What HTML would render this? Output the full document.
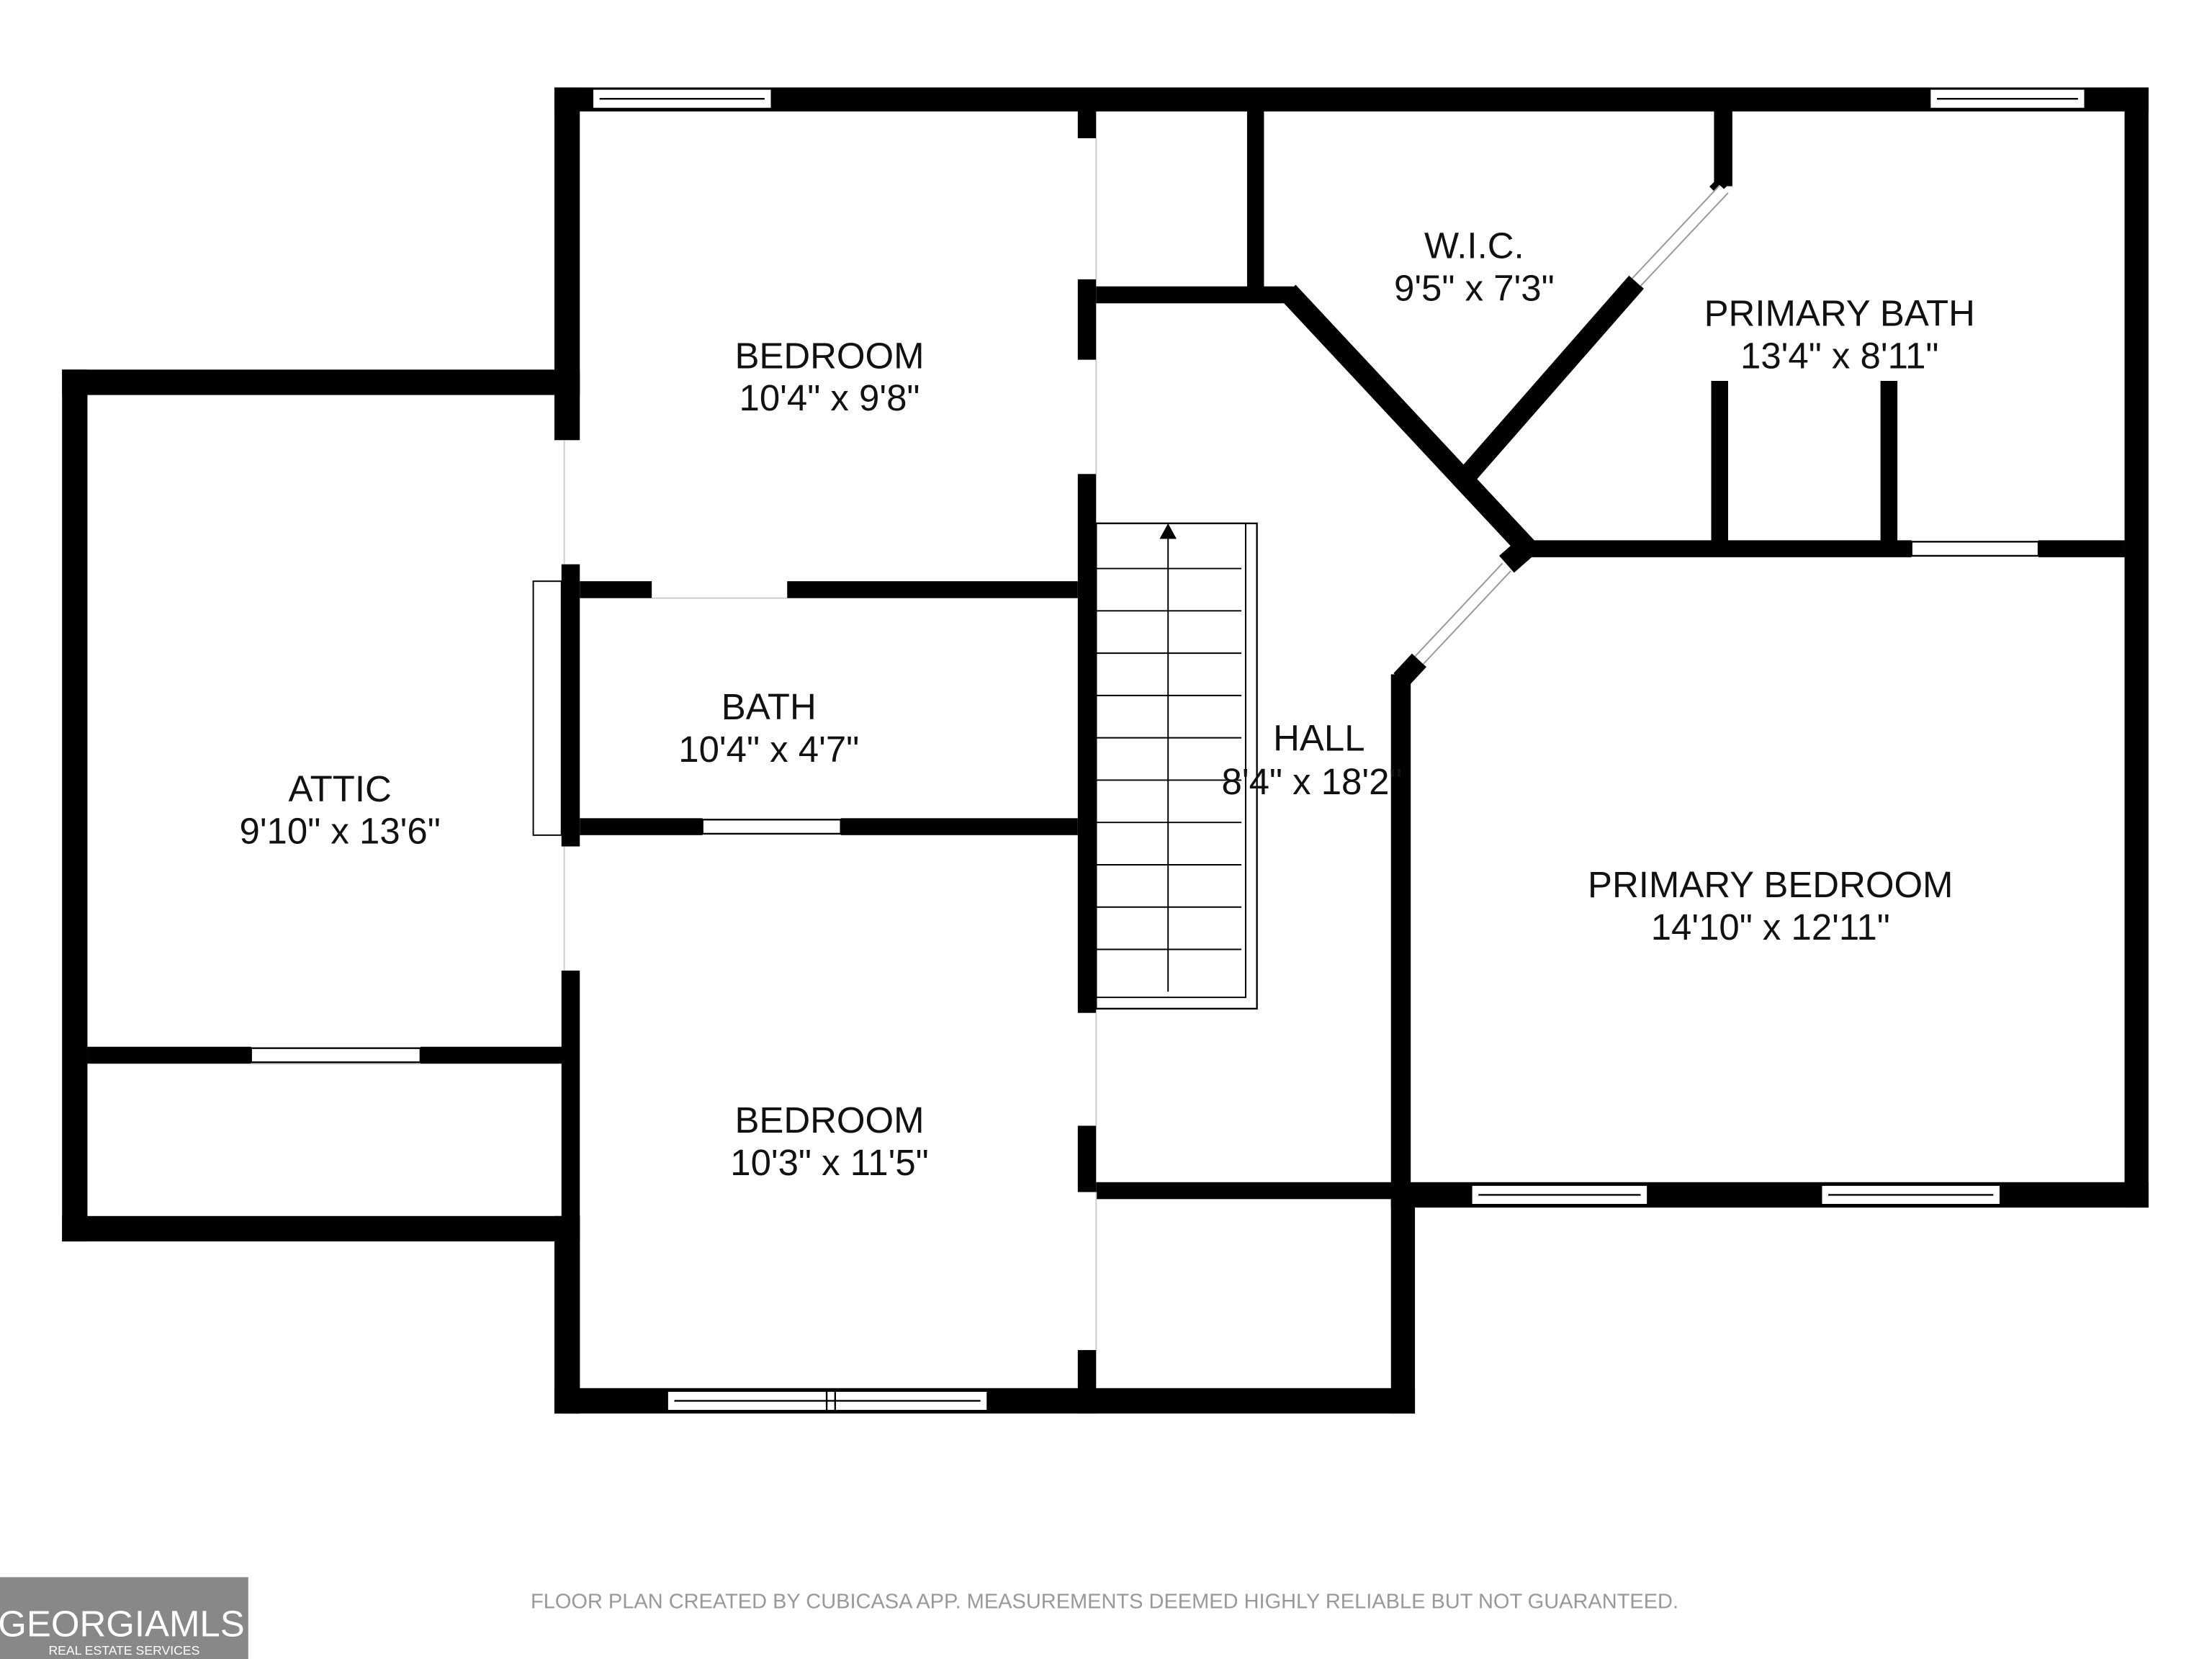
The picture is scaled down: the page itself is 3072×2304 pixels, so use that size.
<!DOCTYPE html>
<html><head><meta charset="utf-8"><style>
html,body{margin:0;padding:0;background:#fff;}
svg{display:block;}
text{font-family:"Liberation Sans",sans-serif;}
</style></head><body>
<svg width="3072" height="2304" viewBox="0 0 1568 1176" xmlns="http://www.w3.org/2000/svg">
<rect width="1568" height="1176" fill="#fff"/>
<g fill="#000">
<rect x="393" y="62" width="1130" height="17"/>
<rect x="393" y="62" width="18" height="250"/>
<rect x="398" y="400" width="13" height="200"/>
<rect x="398" y="688" width="13" height="314"/>
<rect x="393" y="862" width="18" height="140"/>
<rect x="44" y="262" width="367" height="18"/>
<rect x="44" y="262" width="18" height="618"/>
<rect x="44" y="862" width="367" height="18"/>
<rect x="62" y="742" width="116" height="12"/>
<rect x="298" y="742" width="102" height="12"/>
<rect x="393" y="984" width="610" height="18"/>
<rect x="986" y="840" width="17" height="162"/>
<rect x="986" y="838" width="537" height="18"/>
<rect x="1506" y="62" width="17" height="794"/>
<rect x="986" y="478" width="14" height="370"/>
<rect x="1085" y="383" width="270" height="12"/>
<rect x="1445" y="383" width="61" height="12"/>
<rect x="1213" y="270" width="12" height="120"/>
<rect x="1333" y="270" width="12" height="120"/>
<rect x="884" y="78" width="12" height="132"/>
<rect x="777" y="203" width="140" height="12"/>
<rect x="1215" y="78" width="13" height="54"/>
<rect x="764" y="78" width="13" height="20"/>
<rect x="764" y="198" width="13" height="57"/>
<rect x="764" y="336" width="13" height="382"/>
<rect x="764" y="798" width="13" height="47"/>
<rect x="764" y="957" width="13" height="45"/>
<rect x="777" y="838" width="216" height="12"/>
<rect x="411" y="412" width="51" height="12"/>
<rect x="558" y="412" width="206" height="12"/>
<rect x="411" y="580" width="87" height="12"/>
<rect x="596" y="580" width="168" height="12"/>
</g>
<g stroke="#000" fill="none">
<line x1="913" y1="207" x2="1082" y2="388" stroke-width="15"/>
<line x1="1040" y1="337" x2="1160" y2="200" stroke-width="14"/>
<line x1="1216" y1="128" x2="1222" y2="134" stroke-width="12"/>
<line x1="1068" y1="400" x2="1085" y2="385" stroke-width="16"/>
<line x1="993" y1="482" x2="1006" y2="468" stroke-width="14"/>
<line x1="1160" y1="200" x2="1222" y2="134" stroke="#999" stroke-width="9"/>
<line x1="1160" y1="200" x2="1222" y2="134" stroke="#fff" stroke-width="7"/>
<line x1="1006" y1="468" x2="1068" y2="402" stroke="#999" stroke-width="9"/>
<line x1="1006" y1="468" x2="1068" y2="402" stroke="#fff" stroke-width="7"/>
<rect x="777" y="371" width="114" height="344" stroke-width="1.2"/>
<rect x="777" y="371" width="106" height="336" stroke-width="1"/>
<g stroke-width="1">
<line x1="777" y1="403" x2="880" y2="403"/><line x1="777" y1="433" x2="880" y2="433"/>
<line x1="777" y1="463" x2="880" y2="463"/><line x1="777" y1="493" x2="880" y2="493"/>
<line x1="777" y1="523" x2="880" y2="523"/><line x1="777" y1="553" x2="880" y2="553"/>
<line x1="777" y1="583" x2="880" y2="583"/><line x1="777" y1="613" x2="880" y2="613"/>
<line x1="777" y1="643" x2="880" y2="643"/><line x1="777" y1="673" x2="880" y2="673"/>
<line x1="828" y1="380" x2="828" y2="703"/>
</g>
<rect x="378" y="412" width="20" height="180" stroke-width="1"/>
<g stroke="#ccc" stroke-width="1">
<line x1="400" y1="312" x2="400" y2="400"/><line x1="400" y1="600" x2="400" y2="688"/>
<line x1="777" y1="98" x2="777" y2="198"/><line x1="777" y1="255" x2="777" y2="336"/>
<line x1="777" y1="718" x2="777" y2="798"/><line x1="777" y1="845" x2="777" y2="957"/>
<line x1="462" y1="424" x2="558" y2="424"/><line x1="178" y1="754" x2="298" y2="754"/>
</g>
</g>
<g fill="#fff" stroke="#000" stroke-width="1.2">
<rect x="420" y="63" width="127" height="14"/><line x1="425" y1="70" x2="542" y2="70"/>
<rect x="1368" y="63" width="110" height="14"/><line x1="1373" y1="70" x2="1473" y2="70"/>
<rect x="473" y="986" width="227" height="14"/><line x1="478" y1="993" x2="695" y2="993"/><line x1="586" y1="986" x2="586" y2="1000"/><line x1="592" y1="986" x2="592" y2="1000"/>
<rect x="1043" y="840" width="125" height="14"/><line x1="1048" y1="847" x2="1163" y2="847"/>
<rect x="1291" y="840" width="127" height="14"/><line x1="1296" y1="847" x2="1413" y2="847"/>
<rect x="1355" y="384" width="90" height="10"/>
<rect x="498" y="581" width="98" height="10"/>
<rect x="178" y="743" width="120" height="10"/>
</g>
<polygon points="828,371 822,382 834,382" fill="#000"/>
<g font-size="26" fill="#111" text-anchor="middle">
<text x="588" y="261">BEDROOM</text><text x="588" y="291">10'4" x 9'8"</text>
<text x="1045" y="183">W.I.C.</text><text x="1045" y="213">9'5" x 7'3"</text>
<text x="1304" y="231">PRIMARY BATH</text><text x="1304" y="261">13'4" x 8'11"</text>
<text x="545" y="510">BATH</text><text x="545" y="540">10'4" x 4'7"</text>
<text x="241" y="568">ATTIC</text><text x="241" y="598">9'10" x 13'6"</text>
<text x="935" y="532">HALL</text><text x="930" y="563">8'4" x 18'2"</text>
<text x="1255" y="636">PRIMARY BEDROOM</text><text x="1255" y="666">14'10" x 12'11"</text>
<text x="588" y="803">BEDROOM</text><text x="588" y="833">10'3" x 11'5"</text>
</g>
<text x="783" y="1140" font-size="14.8" fill="#999" text-anchor="middle">FLOOR PLAN CREATED BY CUBICASA APP. MEASUREMENTS DEEMED HIGHLY RELIABLE BUT NOT GUARANTEED.</text>
<rect x="0" y="1118" width="176" height="58" fill="#888"/>
<text x="86" y="1160" font-size="26" fill="#fff" text-anchor="middle">GEORGIAMLS</text>
<text x="88" y="1173" font-size="9" fill="#fff" text-anchor="middle">REAL ESTATE SERVICES</text>
</svg>
</body></html>
